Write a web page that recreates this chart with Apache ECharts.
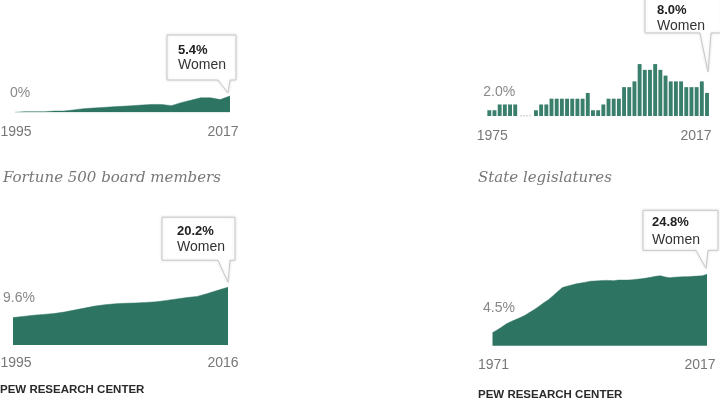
<!DOCTYPE html>
<html><head><meta charset="utf-8">
<script src="https://cdn.jsdelivr.net/npm/echarts@6/dist/echarts.min.js"></script>
<style>html,body{margin:0;padding:0;background:#fff}#c{width:720px;height:405px}</style>
</head><body><div id="c"></div>
<script>
function range(a, b) { const r = []; for (let y = a; y <= b; y++) r.push(String(y)); return r; }

// Fortune 500 CEOs (top-left)
const ceoYears = range(1995, 2017);
const ceoValues = [0, 0.2, 0.2, 0.2, 0.4, 0.4, 0.8, 1.2, 1.4, 1.6, 1.8, 2.0, 2.2, 2.4, 2.6, 2.6, 2.2, 3.2, 4.0, 4.8, 4.8, 4.2, 5.4];

// Governors (top-right)
const govYears = range(1975, 2017);
const govValues = [2, 2, 4, 4, 4, 4, 0, 0, 0, 2, 4, 4, 6, 6, 6, 6, 6, 6, 6, 8, 2, 2, 4, 6, 6, 6, 10, 10, 12, 18, 16, 16, 18, 16, 14, 12, 12, 12, 10, 10, 10, 12, 8];

// Fortune 500 board members (bottom-left)
const boardYears = range(1995, 2016);
const boardValues = [9.6, 10.0, 10.4, 10.7, 11.0, 11.5, 12.2, 12.9, 13.6, 14.1, 14.4, 14.6, 14.7, 14.9, 15.1, 15.6, 16.1, 16.6, 17.0, 18.0, 19.1, 20.2];

// State legislatures (bottom-right)
const legYears = range(1971, 2017);
const legValues = [4.5, 5.5, 6.5, 7.6, 8.4, 9.1, 9.8, 10.6, 11.6, 12.6, 13.7, 14.9, 16.0, 17.4, 18.8, 20.2, 20.7, 21.1, 21.5, 21.8, 22.1, 22.4, 22.5, 22.6, 22.7, 22.7, 22.6, 22.8, 22.8, 22.8, 22.9, 23.1, 23.3, 23.5, 23.8, 24.1, 24.3, 23.9, 23.6, 23.8, 23.9, 24.0, 24.0, 24.1, 24.2, 24.3, 24.8];

const startLabels = ['0%', '2.0%', '9.6%', '4.5%'];
const endLabels = ['5.4%', '8.0%', '20.2%', '24.8%'];
const calloutWord = 'Women';
const subtitles = ['Fortune 500 board members', 'State legislatures'];
const sourceText = 'PEW RESEARCH CENTER';

const SANS = "'Liberation Sans', Arial, sans-serif";
const AREA = '#2e7462';
const BAR = '#3a7f6c';

const chart = echarts.init(document.getElementById('c'), null, { renderer: 'canvas' });

const grids = [
  { left: 15, width: 215, top: 82.1, height: 30.2 },
  { left: 486.7, width: 222.9, top: 58.3, height: 57.7 },
  { left: 13, width: 215, top: 259.2, height: 85.8 },
  { left: 492.5, width: 214.5, top: 259.4, height: 86.3 }
];
const yMax = [10, 20, 30, 30];
const cats = [ceoYears, govYears, boardYears, legYears];
// horizontal nudges (px) of first / last year label, and label margins
const firstShift = [1, 3, 3, 1];
const lastShift = [7, 11, 5, 7];
const labelMargin = [13, 13, 11, 12];

function xAxis(i, gap) {
  const n = cats[i].length;
  const base = { color: '#777', fontSize: 14, fontFamily: SANS };
  return {
    type: 'category', gridIndex: i, data: cats[i], boundaryGap: gap,
    axisLine: { show: false }, axisTick: { show: false }, splitLine: { show: false },
    axisLabel: Object.assign({
      interval: (idx) => idx === 0 || idx === n - 1,
      margin: labelMargin[i],
      formatter: (v, idx) => idx === 0 ? '{f|' + v + '}' : '{e|' + v + '}',
      rich: {
        f: Object.assign({ padding: [0, 0, 0, firstShift[i] * 2] }, base),
        e: Object.assign({ padding: [0, lastShift[i] * 2, 0, 0] }, base)
      }
    }, base)
  };
}
function yAxis(i) {
  return { type: 'value', gridIndex: i, min: 0, max: yMax[i], show: false, splitLine: { show: false } };
}
function area(i, data) {
  return {
    type: 'line', xAxisIndex: i, yAxisIndex: i, data: data, symbol: 'none', silent: true,
    lineStyle: { width: 0.5, color: AREA }, areaStyle: { color: AREA, opacity: 1 }
  };
}

chart.setOption({
  animation: false,
  backgroundColor: '#fff',
  grid: grids.map(g => Object.assign({ containLabel: false, outerBoundsMode: 'none' }, g)),
  xAxis: [xAxis(0, false), xAxis(1, true), xAxis(2, false), xAxis(3, false)],
  yAxis: [yAxis(0), yAxis(1), yAxis(2), yAxis(3)],
  series: [
    area(0, ceoValues),
    { type: 'bar', xAxisIndex: 1, yAxisIndex: 1, data: govValues, barWidth: 3.9, silent: true,
      itemStyle: { color: BAR } },
    { type: 'line', xAxisIndex: 1, yAxisIndex: 1, data: govValues.map(v => v === 0 ? 0 : null),
      symbol: 'none', silent: true, z: 5, lineStyle: { color: '#999', width: 1.2, type: [1.5, 1.5] } },
    area(2, boardValues),
    area(3, legValues)
  ]
});

const series = [ceoValues, govValues, boardValues, legValues];
const panels = [
  { sdx: -5, sdy: -19, gap: 3, tail: 13, rOff: 8, w: 69, h: 45, tx: 11, ty1: 15, ty2: 30, tl: 10, tr: 2, tipDx: 2 },
  { sdx: -6, sdy: -18, gap: 21, tail: 39, rOff: 14, w: 77, h: 45, tx: 12, ty1: 23, ty2: 38, tl: 8, tr: 3, tipDx: -1 },
  { sdx: -10, sdy: -19.5, gap: 5, tail: 22, rOff: 7, w: 73, h: 43, tx: 15, ty1: 14, ty2: 30, tl: 10, tr: 2, tipDx: 0 },
  { sdx: -9.5, sdy: -25, gap: 6, tail: 18, rOff: 12, w: 75, h: 40, tx: 9, ty1: 12, ty2: 30, tl: 10, tr: 2, tipDx: 1 }
];

const elements = [];
panels.forEach((c, i) => {
  const vals = series[i];
  const p0 = chart.convertToPixel({ gridIndex: i }, [0, vals[0]]);
  elements.push({ type: 'text', x: p0[0] + c.sdx, y: p0[1] + c.sdy,
    style: { text: startLabels[i], fill: '#888', font: '14px ' + SANS, textAlign: 'left', textVerticalAlign: 'middle' } });

  const last = vals.length - 1;
  const p1 = chart.convertToPixel({ gridIndex: i }, [last, vals[last]]);
  const tipX = p1[0] - c.tipDx;
  const tipY = p1[1] - c.gap;
  const B = tipY - c.tail, T = B - c.h, R = tipX + c.rOff, L = R - c.w;
  elements.push({ type: 'polygon', z: 10,
    shape: { points: [[L, T], [R, T], [R, B], [Math.min(R, tipX + c.tr), B], [tipX, tipY], [tipX - c.tl, B], [L, B]] },
    style: { fill: '#fff', stroke: '#c9c9c9', lineWidth: 1, shadowBlur: 3, shadowColor: 'rgba(0,0,0,0.12)' } });
  elements.push({ type: 'text', z: 11, x: L + c.tx, y: T + c.ty1,
    style: { text: endLabels[i], fill: '#222', font: 'bold 13px ' + SANS, textAlign: 'left', textVerticalAlign: 'middle' } });
  elements.push({ type: 'text', z: 11, x: L + c.tx, y: T + c.ty2,
    style: { text: calloutWord, fill: '#333', font: '14px ' + SANS, textAlign: 'left', textVerticalAlign: 'middle' } });
});

elements.push({ type: 'text', x: 3, y: 178,
  style: { text: subtitles[0], fill: '#777', font: 'italic 15px "DejaVu Serif", Georgia, serif', textVerticalAlign: 'middle' } });
elements.push({ type: 'text', x: 478, y: 178,
  style: { text: subtitles[1], fill: '#777', font: 'italic 15px "DejaVu Serif", Georgia, serif', textVerticalAlign: 'middle' } });
elements.push({ type: 'text', x: 0, y: 390,
  style: { text: sourceText, fill: '#2a2a2a', font: 'bold 11.5px ' + SANS, textVerticalAlign: 'middle' } });
elements.push({ type: 'text', x: 478, y: 395,
  style: { text: sourceText, fill: '#2a2a2a', font: 'bold 11.5px ' + SANS, textVerticalAlign: 'middle' } });

chart.setOption({ graphic: { elements: elements } });
</script>
</body></html>
